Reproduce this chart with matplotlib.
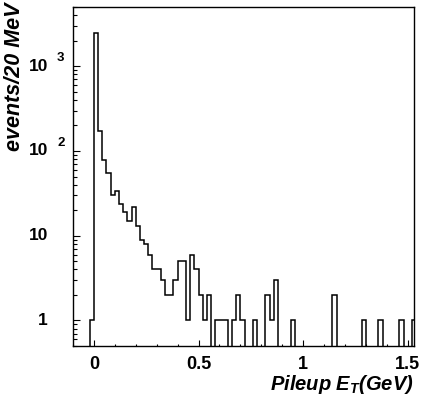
import matplotlib
matplotlib.use('Agg')
import matplotlib.pyplot as plt
import numpy as np
from matplotlib import ticker, transforms

plt.rcParams['font.family'] = ['Liberation Sans', 'DejaVu Sans']
plt.rcParams['mathtext.fontset'] = 'custom'
plt.rcParams['mathtext.rm'] = 'Liberation Sans:bold:italic'
plt.rcParams['mathtext.it'] = 'Liberation Sans:bold:italic'
plt.rcParams['mathtext.bf'] = 'Liberation Sans:bold'

# histogram: 20 MeV bins, first bin starts at -0.02 GeV
bin_lo = -0.02
bin_width = 0.02
counts = np.array([
    1, 2450, 172, 78, 55, 30, 34, 24, 19, 15,
    22, 13, 9, 8, 6, 4, 4, 3, 2, 2,
    3, 5, 5, 1, 6, 4, 2, 1, 2, 0,
    1, 1, 1, 0, 1, 2, 1, 0, 0, 1,
    0, 0, 2, 1, 3, 0, 0, 0, 1, 0,
    0, 0, 0, 0, 0, 0, 0, 0, 2, 0,
    0, 0, 0, 0, 0, 1, 0, 0, 0, 1,
    0, 0, 0, 0, 1, 0, 0, 1,
])

x_ticks = [0, 0.5, 1, 1.5]
x_tick_labels = ['0', '0.5', '1', '1.5']
y_ticks = [1, 10, 100, 1000]
y_tick_base = ['1', '10', '10', '10']
y_tick_exp = ['', '', '2', '3']

edges = bin_lo + bin_width * np.arange(len(counts) + 1)
heights = np.where(counts > 0, counts, 1e-3).astype(float)

fig = plt.figure(figsize=(4.25, 4.03), dpi=100)
ax = fig.add_axes([73 / 425, 57 / 403, 341 / 425, 339 / 403])

ax.stairs(heights, edges, baseline=1e-3, color='black', lw=1.1)

ax.set_yscale('log')
ax.set_xlim(-0.1, 1.53)
ax.set_ylim(0.5, 5000)

for s in ax.spines.values():
    s.set_linewidth(1.0)

ax.xaxis.set_major_locator(ticker.FixedLocator(x_ticks))
ax.xaxis.set_minor_locator(ticker.MultipleLocator(0.1))
ax.set_xticklabels(x_tick_labels, fontsize=13, fontweight='bold')
ax.yaxis.set_major_locator(ticker.FixedLocator(y_ticks))
ax.yaxis.set_minor_locator(ticker.LogLocator(base=10, subs=np.arange(2, 10)))
ax.yaxis.set_minor_formatter(ticker.NullFormatter())
ax.tick_params(which='both', direction='in', top=False, right=False, labelleft=False)
ax.tick_params(axis='x', which='major', length=4.3, width=0.8, pad=7)
ax.tick_params(axis='x', which='minor', length=1.8, width=0.8)
ax.tick_params(axis='y', which='major', length=5, width=0.8)
ax.tick_params(axis='y', which='minor', length=3, width=0.8)

# y tick labels in ROOT style (10 with a raised exponent)
trans = transforms.blended_transform_factory(ax.transAxes, ax.transData)
base_tr = transforms.offset_copy(trans, fig=fig, x=-25, y=0, units='dots')
exp_tr = transforms.offset_copy(trans, fig=fig, x=-16, y=8, units='dots')
for yv, b, e in zip(y_ticks, y_tick_base, y_tick_exp):
    ax.text(0, yv, b, transform=base_tr, ha='right', va='center',
            fontsize=12.5, fontweight='bold')
    if e:
        ax.text(0, yv, e, transform=exp_tr, ha='left', va='center',
                fontsize=9.5, fontweight='bold')

fig.text(414 / 425, 1 - 385 / 403, r'Pileup $E_{T}$(GeV)', ha='right', va='center',
         fontsize=14.5, fontweight='bold', style='italic')
fig.text(15 / 425, 0.995, 'events/20 MeV', rotation=90, ha='center', va='top',
         fontsize=15.5, fontweight='bold', style='italic')

fig.savefig('out.png', dpi=100)
